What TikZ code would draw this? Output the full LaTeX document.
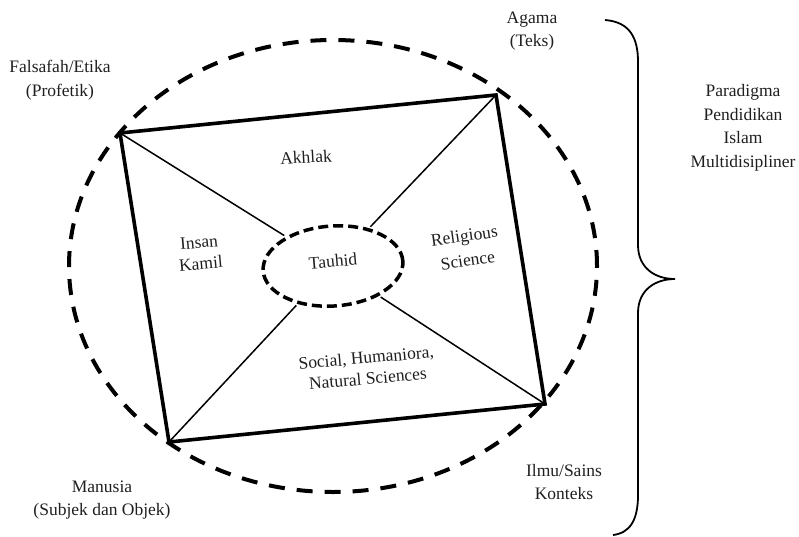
\documentclass[tikz,border=0pt]{standalone}
\usepackage{fontspec}
\setmainfont{Liberation Serif}
\usetikzlibrary{shapes.geometric}
\begin{document}
\begin{tikzpicture}[x=1pt,y=-1pt,
  lbl/.style={align=center, font=\fontsize{17.5}{23.5}\selectfont, text=black!88, inner sep=0pt},
  inlbl/.style={lbl, rotate=5},
  frame/.style={draw, line width=3.6pt, line join=miter},
  spoke/.style={draw, line width=1.5pt, shorten >=2pt},
  outerring/.style={ellipse, draw, line width=4pt, dash pattern=on 16pt off 12pt, inner sep=0pt},
  corering/.style={ellipse, draw, line width=3.5pt, dash pattern=on 10pt off 5pt, inner sep=0pt},
  bracepath/.style={draw, line width=1.8pt}]
\useasboundingbox (0,0) rectangle (799,537);

% outer dashed ring
\node[outerring, minimum width=528pt, minimum height=452pt] (outer) at (333,266) {};

% corners of the frame
\coordinate (tl) at (120,133);
\coordinate (tr) at (496,95);
\coordinate (br) at (545,404);
\coordinate (bl) at (169,442);

% central ring
\node[corering, minimum width=140pt, minimum height=80pt, rotate=4] (tauhid) at (333,266) {};

% frame and spokes
\draw[frame] (tl) -- (tr) -- (br) -- (bl) -- cycle;
\draw[spoke] (tl) -- (tauhid);
\draw[spoke] (tr) -- (tauhid);
\draw[spoke] (br) -- (tauhid);
\draw[spoke] (bl) -- (tauhid);

% inner labels
\node[inlbl] (tauhidtext) at (333,261) {Tauhid};
\node[inlbl, rotate=-2] (akhlak) at (306,157) {Akhlak};
\node[inlbl, font=\fontsize{17.5}{21.5}\selectfont] (insan) at (200,253) {Insan\\Kamil};
\node[inlbl, rotate=3, font=\fontsize{17.5}{25}\selectfont] (religi) at (466,248) {Religious\\Science};
\node[inlbl, font=\fontsize{17.5}{21}\selectfont] (social) at (367,368) {Social, Humaniora,\\Natural Sciences};

% outer labels
\node[lbl] (falsafah) at (60,80) {Falsafah/Etika\\(Profetik)};
\node[lbl] (agama) at (532,31) {Agama\\(Teks)};
\node[lbl] (manusia) at (102,500) {Manusia\\(Subjek dan Objek)};
\node[lbl] (ilmu) at (564,482) {Ilmu/Sains\\Konteks};
\node[lbl] (paradigma) at (743,128) {Paradigma\\Pendidikan\\Islam\\Multidisipliner};

% curly brace
\draw[bracepath] (605,20) .. controls (630,22) and (638,38) .. (638,62)
  -- (638,245) .. controls (638,268) and (655,279) .. (675,279)
  .. controls (655,279) and (638,290) .. (638,313)
  -- (638,495) .. controls (638,520) and (630,533) .. (613,535);
\end{tikzpicture}
\end{document}
